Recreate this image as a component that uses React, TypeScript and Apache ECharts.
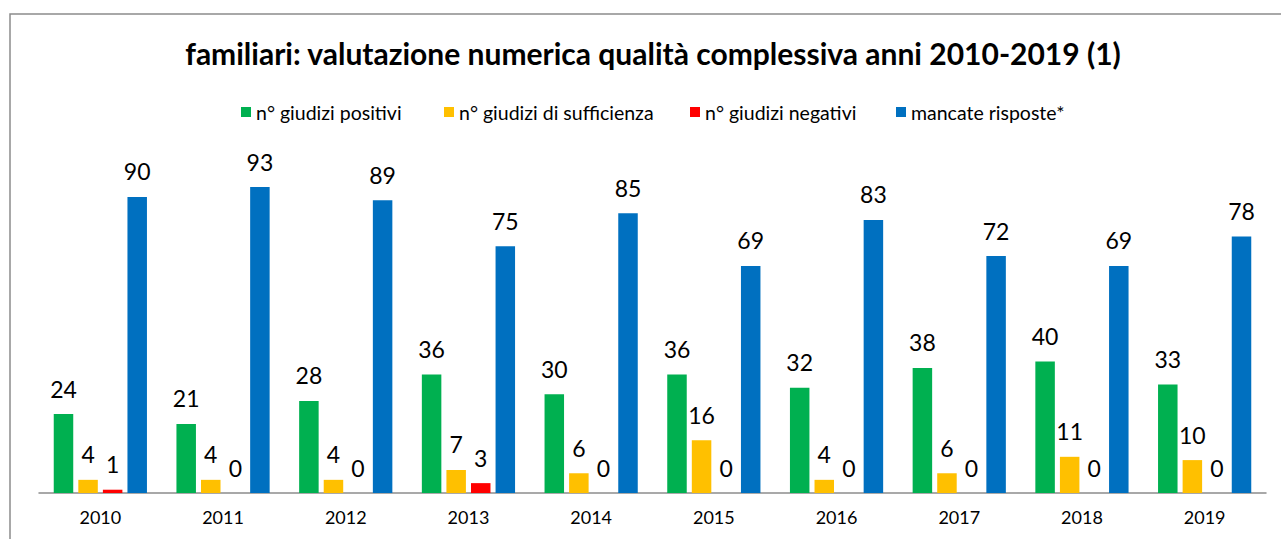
import React, { useEffect, useRef } from "react";
import * as echarts from "echarts";

const categories = ["2010", "2011", "2012", "2013", "2014", "2015", "2016", "2017", "2018", "2019"];
const positivi = [24, 21, 28, 36, 30, 36, 32, 38, 40, 33];
const sufficienza = [4, 4, 4, 7, 6, 16, 4, 6, 11, 10];
const negativi = [1, 0, 0, 3, 0, 0, 0, 0, 0, 0];
const mancate = [90, 93, 89, 75, 85, 69, 83, 72, 69, 78];
const seriesNames = [
  "n° giudizi positivi",
  "n° giudizi di sufficienza",
  "n° giudizi negativi",
  "mancate risposte*",
];
const seriesColors = ["#00B050", "#FFC000", "#FF0000", "#0070C0"];
const titleText = "familiari: valutazione numerica qualità complessiva anni 2010-2019 (1)";

const FONT = "Lato, 'Open Sans', sans-serif";

export default function App() {
  const ref = useRef<HTMLDivElement>(null);
  useEffect(() => {
    if (!ref.current) return;
    const chart = echarts.init(ref.current, null, { renderer: "svg" });
    const values = [positivi, sufficienza, negativi, mancate];
    const legendLefts = [241, 444, 690, 896];
    chart.setOption({
      animation: false,
      backgroundColor: "#ffffff",
      title: {
        text: titleText,
        left: 653,
        top: 38,
        padding: 0,
        textAlign: "center",
        textStyle: { fontFamily: FONT, fontWeight: "bold", fontSize: 30, color: "#000" },
      },
      legend: seriesNames.map((n, i) => ({
        data: [n],
        left: legendLefts[i],
        top: 102,
        padding: 0,
        itemWidth: 10,
        itemHeight: 10,
        icon: "rect",
        textStyle: { fontFamily: FONT, fontSize: 19.5, color: "#000" },
      })),
      grid: { left: 39, right: 15, top: 164, bottom: 46, containLabel: false },
      xAxis: {
        type: "category",
        data: categories,
        axisLine: { lineStyle: { color: "#8c8c8c", width: 1.5 } },
        axisTick: { show: false },
        axisLabel: { fontFamily: FONT, fontSize: 18, color: "#000", margin: 15 },
      },
      yAxis: {
        type: "value",
        min: 0,
        max: 100,
        show: false,
        splitLine: { show: false },
      },
      graphic: [
        {
          type: "rect",
          shape: { x: 10, y: 14, width: 1400, height: 700 },
          style: { fill: "none", stroke: "#8c8c8c", lineWidth: 1.5 },
          silent: true,
        },
      ],
      series: seriesNames.map((n, i) => ({
        name: n,
        type: "bar",
        data: values[i],
        barWidth: 19.5,
        barGap: "26%",
        itemStyle: { color: seriesColors[i] },
        label: {
          show: true,
          position: "top",
          distance: 14,
          fontFamily: FONT,
          fontSize: 23,
          color: "#000",
        },
      })),
    });
    return () => chart.dispose();
  }, []);
  return (
    <div
      ref={ref}
      style={{ position: "fixed", left: 0, top: 0, width: 1281, height: 539 }}
    />
  );
}
